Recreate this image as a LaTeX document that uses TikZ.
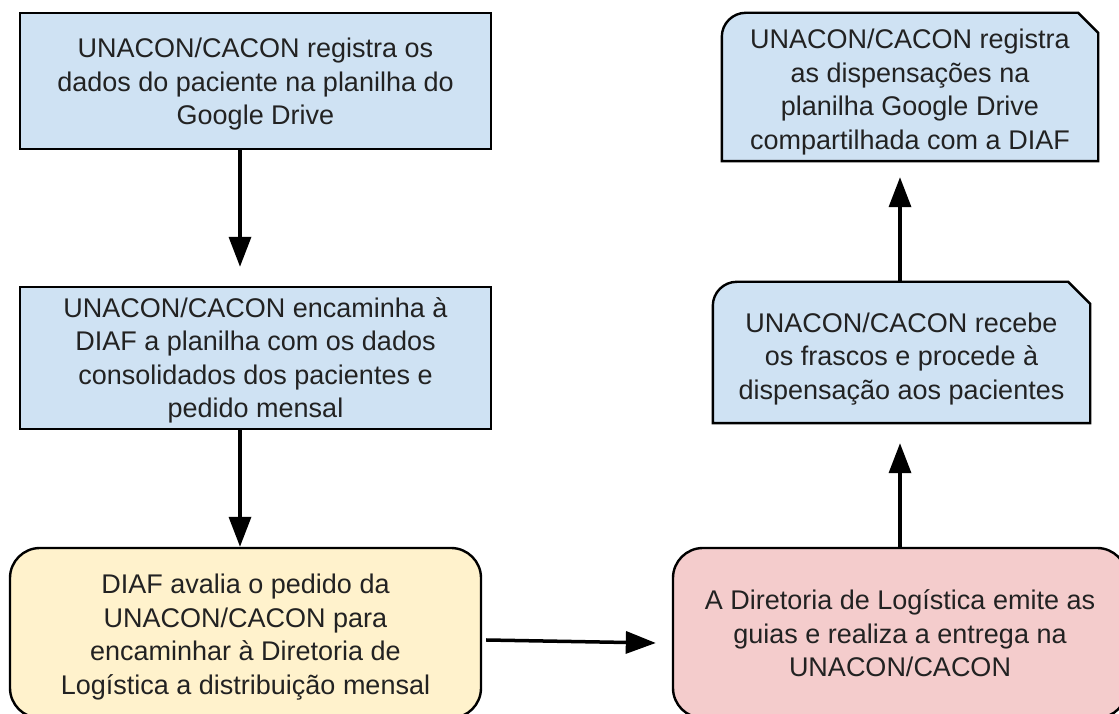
\documentclass[tikz,border=0pt]{standalone}
\usepackage{fontspec}
\setmainfont{Liberation Sans}
\usetikzlibrary{arrows.meta,backgrounds}
\definecolor{bluefill}{HTML}{CFE2F3}
\definecolor{yellowfill}{HTML}{FFF2CC}
\definecolor{pinkfill}{HTML}{F4CCCC}
\definecolor{txtcol}{HTML}{222222}
% #1 = how far the lines sit below the box centre
\newcommand{\boxlines}[2][0pt]{\raisebox{\dimexpr-#1-6.75pt\relax}[0pt][0pt]{\begin{tabular}{@{}c@{}}#2\end{tabular}}}
\begin{document}
\begin{tikzpicture}[x=1pt,y=1pt,
  boxtext/.style={font=\fontsize{27pt}{33.5pt}\selectfont, text=txtcol, inner sep=0pt},
  plainbox/.style={boxtext, draw=black, line width=2.4pt, rectangle, fill=bluefill},
  roundbox/.style={boxtext, draw=black, line width=2.4pt, rectangle, rounded corners=30pt},
  snipbox/.style={draw=black, line width=2.4pt, fill=bluefill},
  arr/.style={line width=3.5pt, -{Triangle[width=22pt,length=30pt]}}
]
\clip (0,0) rectangle (1119,714);

\node[plainbox, minimum width=471pt, minimum height=136pt] (b1) at (255.5,633)
  {\boxlines[3pt]{UNACON/CACON registra os\\dados do paciente na planilha do\\Google Drive}};
\node[plainbox, minimum width=471pt, minimum height=142pt] (b2) at (255.5,356)
  {\boxlines[2.5pt]{UNACON/CACON encaminha à\\DIAF a planilha com os dados\\consolidados dos pacientes e\\pedido mensal}};
\node[roundbox, fill=yellowfill, minimum width=471pt, minimum height=170pt] (b3) at (245.5,81)
  {\boxlines[4pt]{DIAF avalia o pedido da\\UNACON/CACON para\\encaminhar à Diretoria de\\Logística a distribuição mensal}};
\node[roundbox, fill=pinkfill, minimum width=454pt, minimum height=170pt] (b4) at (900,81)
  {\boxlines[3pt]{A Diretoria de Logística emite as\\guias e realiza a entrega na\\UNACON/CACON}};
\node[boxtext, minimum width=377pt, minimum height=141pt] (b5) at (901.5,361.5)
  {\boxlines[6pt]{UNACON/CACON recebe\\os frascos e procede à\\dispensação aos pacientes}};
\node[boxtext, minimum width=376pt, minimum height=148pt] (b6) at (910,627)
  {\boxlines[5pt]{UNACON/CACON registra\\as dispensações na\\planilha Google Drive\\compartilhada com a DIAF}};

\begin{scope}[on background layer]
  \fill[white] (0,0) rectangle (1119,714);
  \draw[snipbox] (b5.south west) -- ([yshift=-24pt]b5.north west)
    arc[start angle=180,end angle=90,radius=24pt]
    -- ([xshift=-22pt]b5.north east) -- ([yshift=-22pt]b5.north east)
    -- (b5.south east) -- cycle;
  \draw[snipbox] (b6.south west) -- ([yshift=-24pt]b6.north west)
    arc[start angle=180,end angle=90,radius=24pt]
    -- ([xshift=-20pt]b6.north east) -- ([yshift=-20pt]b6.north east)
    -- (b6.south east) -- cycle;
\end{scope}

\draw[arr] ([xshift=-15.5pt]b1.south) -- ([xshift=-15.5pt,yshift=19pt]b2.north);
\draw[arr] ([xshift=-15.5pt]b2.south) -- ([xshift=-5.5pt]b3.north);
\draw[arr] ([xshift=4pt,yshift=-7pt]b3.east) -- ([xshift=-16pt,yshift=-10pt]b4.west);
\draw[arr] (b4.north) -- ([xshift=-1.5pt,yshift=-20pt]b5.south);
\draw[arr] ([xshift=-1.5pt]b5.north) -- ([xshift=-10pt,yshift=-16pt]b6.south);
\end{tikzpicture}
\end{document}
